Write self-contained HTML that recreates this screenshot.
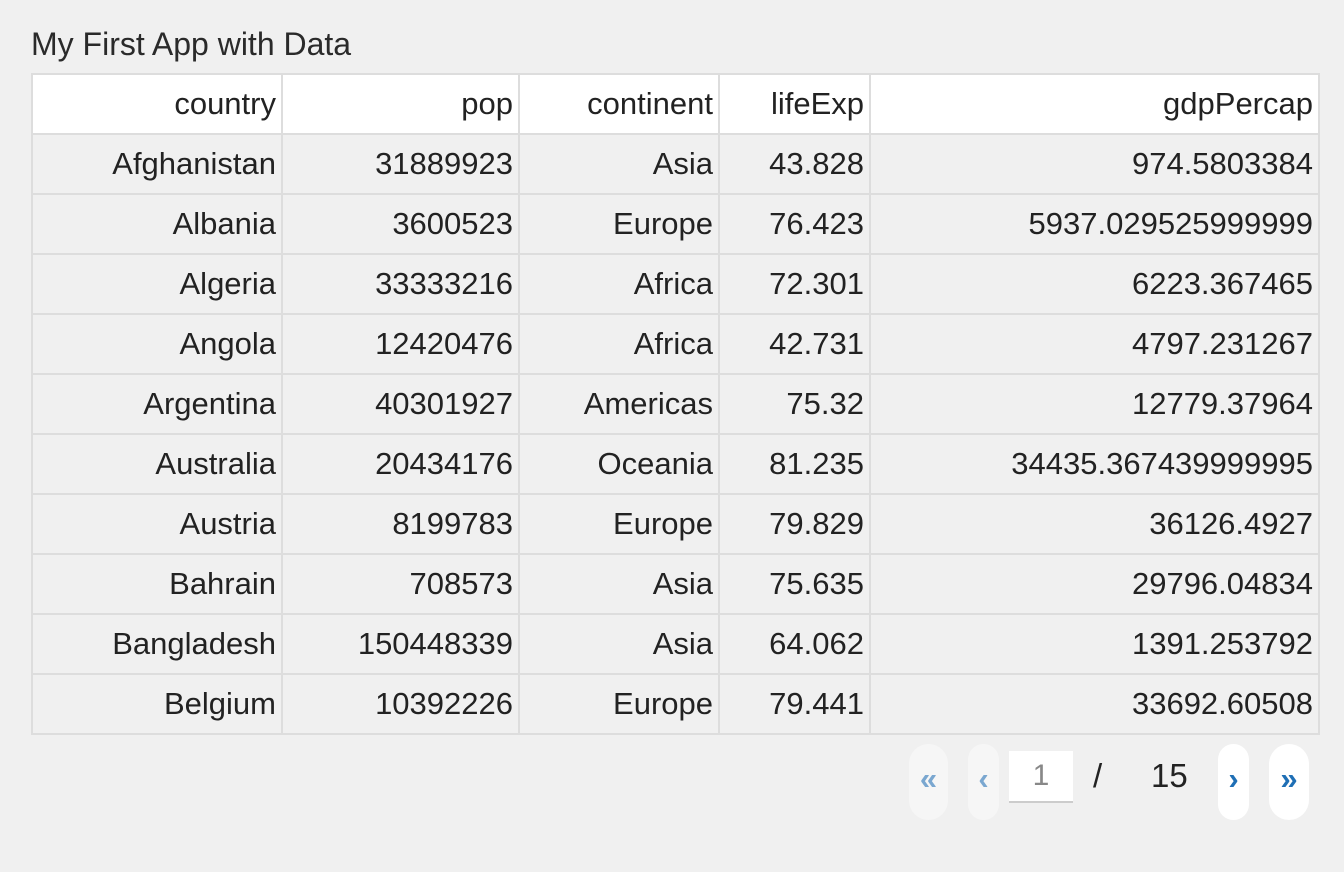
<!DOCTYPE html>
<html><head><meta charset="utf-8"><style>
body{margin:0;width:1344px;height:872px;background:#f0f0f0;font-family:"Liberation Sans",Arial,sans-serif;color:#222;position:relative;overflow:hidden}
#title{position:absolute;left:31px;top:26px;font-size:32px;line-height:36px;color:#2a2a2a}
table{position:absolute;left:31px;top:73px;border-collapse:collapse;table-layout:fixed;font-size:31px}
td,th{border:2px solid #dddddd;height:60px;padding:0 5px;text-align:right;font-weight:normal;white-space:nowrap;overflow:hidden;color:#222;box-sizing:border-box}
th{background:#fff}
td{background:#f0f0f0}
.btn{position:absolute;top:744px;height:76px;border-radius:20px;display:flex;align-items:center;justify-content:center;font-size:31px;font-weight:bold;line-height:76px}
.btn span{position:relative;top:-3px}
.dis{background:#f6f6f6;color:#7aa7d0}
.en{background:#fff;color:#1f6fb5}
#pg{position:absolute;left:1009px;top:751px;width:64px;height:50px;background:#fff;border-bottom:2px solid #cccccc;color:#888;font-size:30px;display:flex;align-items:center;justify-content:center}
.tx{position:absolute;top:756px;font-size:33px;line-height:40px;color:#222}
</style></head><body>
<div id="title">My First App with Data</div>
<table>
<colgroup><col style="width:250px"><col style="width:237px"><col style="width:200px"><col style="width:151px"><col style="width:449px"></colgroup>
<thead><tr>
<th>country</th>
<th>pop</th>
<th>continent</th>
<th>lifeExp</th>
<th>gdpPercap</th></tr></thead>
<tbody>
<tr><td>Afghanistan</td><td>31889923</td><td>Asia</td><td>43.828</td><td>974.5803384</td></tr>
<tr><td>Albania</td><td>3600523</td><td>Europe</td><td>76.423</td><td>5937.029525999999</td></tr>
<tr><td>Algeria</td><td>33333216</td><td>Africa</td><td>72.301</td><td>6223.367465</td></tr>
<tr><td>Angola</td><td>12420476</td><td>Africa</td><td>42.731</td><td>4797.231267</td></tr>
<tr><td>Argentina</td><td>40301927</td><td>Americas</td><td>75.32</td><td>12779.37964</td></tr>
<tr><td>Australia</td><td>20434176</td><td>Oceania</td><td>81.235</td><td>34435.367439999995</td></tr>
<tr><td>Austria</td><td>8199783</td><td>Europe</td><td>79.829</td><td>36126.4927</td></tr>
<tr><td>Bahrain</td><td>708573</td><td>Asia</td><td>75.635</td><td>29796.04834</td></tr>
<tr><td>Bangladesh</td><td>150448339</td><td>Asia</td><td>64.062</td><td>1391.253792</td></tr>
<tr><td>Belgium</td><td>10392226</td><td>Europe</td><td>79.441</td><td>33692.60508</td></tr>
</tbody></table>
<div class="btn dis" style="left:909px;width:39px"><span>«</span></div>
<div class="btn dis" style="left:968px;width:31px"><span>‹</span></div>
<div id="pg">1</div>
<div class="tx" style="left:1093px">/</div>
<div class="tx" style="left:1151px">15</div>
<div class="btn en" style="left:1218px;width:31px"><span>›</span></div>
<div class="btn en" style="left:1269px;width:40px"><span>»</span></div>
</body></html>
